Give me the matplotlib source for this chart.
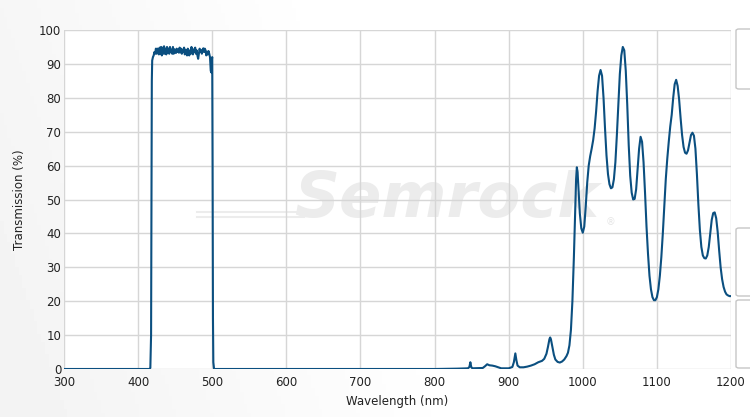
import numpy as np
import matplotlib
matplotlib.use("Agg")
import matplotlib.pyplot as plt
from matplotlib.patches import FancyBboxPatch

# wavelength (nm) / transmission (%)
wl_pass = [300, 415, 416.5, 417.5, 418, 418.5, 419, 420, 421, 422, 423, 424, 425, 426, 427, 428,
           429, 430, 431, 432, 433, 434, 435, 436, 437, 438, 439, 440, 441, 442, 443, 444, 445,
           446, 447, 448, 449, 450, 451, 452, 453, 454, 455, 456, 457, 458, 459, 460, 461, 462,
           463, 464, 465, 466, 467, 468, 469, 470, 471, 472, 473, 474, 475, 476, 477, 478, 479,
           480, 481, 482, 483, 484, 485, 486, 487, 488, 489, 490, 491, 492, 493, 494, 495, 496,
           497, 498, 498.7, 499.3, 500, 500.5, 501, 501.5, 502.5]
t_pass = [0, 0, 0.3, 10, 50, 85, 91, 92, 92.5, 93.5, 93, 94.5, 93, 94.5, 94.3, 92.8,
          94.8, 93, 95, 92.5, 94.8, 93, 95.2, 93, 94.5, 92.8, 95, 93.2, 94.5, 93, 95, 93.5, 94.2,
          93, 95, 93, 94.3, 94, 93.2, 94.5, 93.5, 94.2, 93.3, 94.8, 93.4, 94.5, 93, 94.2, 93.5, 94.8,
          92.8, 94.2, 93.5, 92.5, 94.5, 93.8, 92.5, 94, 93, 95, 93.2, 92.8, 94.3, 93.5, 94.8, 93, 94,
          92.5, 91.5, 93, 94.5, 93.5, 94, 93, 94.2, 94.6, 93.5, 94.5, 94, 92.5, 93.6, 92.8, 93.8, 93,
          92, 88, 87.5, 91, 92, 60, 15, 2, 0]

wl_block = [503, 800, 830, 845, 847, 848.3, 849.5, 851, 865, 868, 871, 874, 878, 882, 886, 890,
            900, 905, 907, 909, 910.5, 912, 915, 920, 925, 930, 935, 940, 945, 948, 951, 953,
            955, 956, 957, 959, 961, 963, 966, 969, 972, 975, 978, 980, 982, 984]
t_block = [0, 0, 0.1, 0.2, 0.6, 2.0, 0.6, 0.2, 0.3, 0.8, 1.4, 1.1, 1.0, 0.8, 0.5, 0.2,
           0.2, 0.6, 2.0, 4.6, 2.5, 1.0, 0.5, 0.5, 0.7, 1.0, 1.4, 2.0, 2.4, 3.0, 4.5, 6.5,
           8.8, 9.3, 8.8, 6.5, 4.2, 2.8, 2.1, 1.9, 2.2, 2.8, 3.8, 4.8, 7.0, 11.5]

wl_nir = [986, 988, 989.5, 991, 992, 993, 994.5, 996, 998, 1000, 1002, 1004, 1006, 1008, 1010,
          1012, 1014, 1016, 1018, 1020, 1022, 1024, 1026, 1028, 1030, 1032, 1034, 1036, 1038,
          1040, 1042, 1044, 1046, 1048, 1050, 1052, 1054, 1056, 1058, 1060, 1062, 1064, 1066,
          1068, 1070, 1072, 1074, 1076, 1078, 1080, 1082, 1084, 1086, 1088, 1090, 1092, 1094,
          1096, 1098, 1100, 1102, 1104, 1106, 1108, 1110, 1112, 1114, 1116, 1118, 1120, 1122,
          1124, 1126, 1128, 1130, 1132, 1134, 1136, 1138, 1140, 1142, 1144, 1146, 1148, 1150,
          1152, 1154, 1156, 1158, 1160, 1162, 1164, 1166, 1168, 1170, 1172, 1174, 1176, 1178,
          1180, 1182, 1184, 1186, 1188, 1190, 1192, 1194, 1196, 1198, 1200]
t_nir = [20, 33, 45, 56, 59.5, 58, 52, 46, 41.5, 40.2, 42, 48, 55, 60, 62.8,
         65, 67.5, 71, 76, 82, 86.5, 88.2, 86.5, 80, 71, 63, 57.5, 54.5, 53.3,
         53.6, 56, 61, 69, 78, 87, 92.5, 95, 94, 88, 78, 66, 57, 52,
         50, 50.2, 53, 59, 65, 68.5, 67, 61, 52, 42, 34, 27.5, 23.5, 21.2,
         20.3, 20.3, 21.2, 23.5, 27.5, 33, 40, 48, 56, 62, 67, 71.5, 75, 80,
         84, 85.3, 83.5, 79.5, 74, 69, 65.5, 63.8, 63.5, 64.5, 66.8, 69, 69.7, 68.8,
         65, 57.5, 48.5, 41, 36, 33.5, 32.7, 32.6, 33.5, 36, 40, 44, 46, 46.2,
         44.5, 40.5, 35, 30, 26.5, 24.2, 22.8, 22, 21.7, 21.5, 21.5]

wavelength = wl_pass + wl_block + wl_nir
transmission = t_pass + t_block + t_nir

fig = plt.figure(figsize=(7.5, 4.17), dpi=100)
fig.patch.set_facecolor("white")

# faint background gradient (darker toward lower left)
bg = fig.add_axes([0, 0, 1, 1], zorder=-10)
gx, gy = np.meshgrid(np.linspace(0, 1, 200), np.linspace(0, 1, 100))
bg.imshow(1 - 0.05 * np.clip(1 - gx * 1.6 - (1 - gy) * 0.3, 0, 1), cmap="gray",
          vmin=0, vmax=1, extent=[0, 1, 0, 1], aspect="auto", origin="upper")
bg.axis("off")

ax = fig.add_axes([64 / 750, 1 - 369 / 417, 667 / 750, 339 / 417])
ax.set_facecolor("white")
ax.plot(wavelength, transmission, color="#0b4f80", lw=1.5, zorder=3)

ax.set_xlim(300, 1200)
ax.set_ylim(0, 100)
ax.set_xticks(range(300, 1201, 100))
ax.set_yticks(range(0, 101, 10))
ax.set_axisbelow(True)
ax.grid(True, color="#d6d6d6", lw=1)
for s in ax.spines.values():
    s.set_visible(False)
ax.tick_params(axis="x", length=0, labelsize=8.5, colors="#222222", pad=5)
ax.tick_params(axis="y", length=0, labelsize=8.5, colors="#222222", pad=2)
ax.set_xlabel("Wavelength (nm)", fontsize=8.5, color="#222222", labelpad=4)
ax.set_ylabel("Transmission (%)", fontsize=8.5, color="#222222", labelpad=9)

# watermark
ax.text(0.574, 0.50, "Semrock", transform=ax.transAxes, fontsize=45, fontweight="bold",
        style="italic", color="#ececec", ha="center", va="center", zorder=0.2)
ax.text(0.812, 0.425, "\u00ae", transform=ax.transAxes, fontsize=7, color="#e6e6e6", zorder=0.2)
for yy in (0.462, 0.447):
    ax.plot([0.20, 0.36], [yy, yy], transform=ax.transAxes, color="#ececec", lw=1.5, zorder=0.2)

# side panels on the right edge
for y0, y1 in [(29, 89), (228, 296), (300, 368)]:
    fig.add_artist(FancyBboxPatch((736 / 750, 1 - y1 / 417), 0.03, (y1 - y0) / 417,
                                  boxstyle="round,pad=0,rounding_size=0.004",
                                  transform=fig.transFigure, facecolor="white",
                                  edgecolor="#c6c6c6", lw=1))

fig.savefig("out.png", dpi=100)
